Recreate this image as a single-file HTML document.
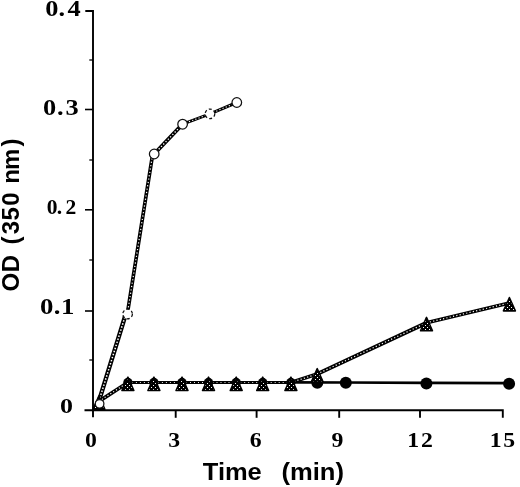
<!DOCTYPE html>
<html><head><meta charset="utf-8"><title>OD (350 nm) vs Time (min)</title>
<style>
html,body{margin:0;padding:0;background:#fff;}
svg{display:block;}
.tk{font-family:"Liberation Serif","DejaVu Serif",serif;font-weight:bold;font-size:22px;fill:#000;}
.ax{font-family:"Liberation Sans","DejaVu Sans",sans-serif;font-weight:bold;fill:#000;}
</style></head><body>
<svg width="520" height="487" viewBox="0 0 520 487">
<defs>
<pattern id="tp" patternUnits="userSpaceOnUse" width="4" height="4"><rect width="4" height="4" fill="#000"/><rect x="1" y="1" width="1" height="1" fill="#fff"/><rect x="3" y="3" width="1" height="1" fill="#fff"/></pattern>
</defs>
<rect width="520" height="487" fill="#fff"/>

<g stroke="#000" stroke-width="1.9" fill="none">
<path d="M85.3,11 H93.0 V417.3"/>
<path d="M84.5,410.3 H502.8 V417.8"/>
<path d="M85.0,109.5 H93.0" stroke-width="1.6"/>
<path d="M85.0,209.8 H93.0" stroke-width="1.6"/>
<path d="M85.0,311 H93.0" stroke-width="1.6"/>
<path d="M89.3,60 H93.0" stroke-width="1.3"/>
<path d="M89.3,160 H93.0" stroke-width="1.3"/>
<path d="M89.3,260 H93.0" stroke-width="1.3"/>
<path d="M89.3,360 H93.0" stroke-width="1.3"/>
<path d="M175.7,410.3 V417.8"/>
<path d="M256.6,410.3 V417.8"/>
<path d="M339.2,410.3 V417.8"/>
<path d="M420,410.3 V417.8"/>
</g>
<text class="tk" transform="translate(45.3,15.6) scale(1.2,1.04)" x="0.00 11.08 18.58" y="0">0.4</text>
<text class="tk" transform="translate(43,115.2) scale(1.2,1.08)" x="0.00 11.67 18.75" y="0">0.3</text>
<text class="tk" transform="translate(46.8,214) scale(0.98,0.92)" x="0.00 10.20 19.08" y="0">0.2</text>
<text class="tk" transform="translate(40,314) scale(1.22,1.08)" x="0.00 11.31 17.21" y="0">0.1</text>
<text class="tk" transform="translate(60,412.6) scale(1.18,1.0)" x="0.00" y="0">0</text>
<text class="tk" transform="translate(85,446.5) scale(1.08,1.0)" x="0.00" y="0">0</text>
<text class="tk" transform="translate(168.3,446.5) scale(1.08,1.0)" x="0.00" y="0">3</text>
<text class="tk" transform="translate(249.7,446.5) scale(1.08,1.0)" x="0.00" y="0">6</text>
<text class="tk" transform="translate(331.5,446.5) scale(1.08,1.0)" x="0.00" y="0">9</text>
<text class="tk" transform="translate(407.3,446.5) scale(1.08,1.0)" x="0.00 12.69" y="0">12</text>
<text class="tk" transform="translate(489.8,446.5) scale(1.08,1.0)" x="0.00 12.41" y="0">15</text>
<text class="ax" font-size="24" y="479.7"><tspan x="202.8" textLength="59" lengthAdjust="spacingAndGlyphs">Time</tspan> <tspan x="281.5" textLength="62.5" lengthAdjust="spacingAndGlyphs">(min)</tspan></text>
<text class="ax" font-size="24" transform="translate(18.7,290.3) rotate(-90)" x="-1.3 18.1 40 45.9 56.1 69.7 84.5 100 106.5 120.4 143.7" y="0">OD (350 nm)</text>
<polyline points="290.9,382.4 345.8,382.5 426.4,382.9 509.1,383.2" fill="none" stroke="#000" stroke-width="2.7"/>
<polyline points="98.9,401.3 127.9,382.5" fill="none" stroke="#000" stroke-width="3.8" stroke-linecap="round"/><polyline points="98.9,401.3 127.9,382.5" fill="none" stroke="#fff" stroke-width="1.2" stroke-dasharray="1.2 2.2"/>
<polyline points="127.9,382.5 153.9,382.5" fill="none" stroke="#000" stroke-width="2.8" stroke-linecap="round"/><polyline points="127.9,382.5 153.9,382.5" fill="none" stroke="#fff" stroke-width="0.9" stroke-dasharray="1 3"/>
<polyline points="153.9,382.5 182.0,382.5" fill="none" stroke="#000" stroke-width="2.8" stroke-linecap="round"/><polyline points="153.9,382.5 182.0,382.5" fill="none" stroke="#fff" stroke-width="0.9" stroke-dasharray="1 3"/>
<polyline points="182.0,382.5 208.5,382.5" fill="none" stroke="#000" stroke-width="2.8" stroke-linecap="round"/><polyline points="182.0,382.5 208.5,382.5" fill="none" stroke="#fff" stroke-width="0.9" stroke-dasharray="1 3"/>
<polyline points="208.5,382.5 236.2,382.5" fill="none" stroke="#000" stroke-width="2.8" stroke-linecap="round"/><polyline points="208.5,382.5 236.2,382.5" fill="none" stroke="#fff" stroke-width="0.9" stroke-dasharray="1 3"/>
<polyline points="236.2,382.5 262.7,382.5" fill="none" stroke="#000" stroke-width="2.8" stroke-linecap="round"/><polyline points="236.2,382.5 262.7,382.5" fill="none" stroke="#fff" stroke-width="0.9" stroke-dasharray="1 3"/>
<polyline points="262.7,382.5 290.9,382.5" fill="none" stroke="#000" stroke-width="2.8" stroke-linecap="round"/><polyline points="262.7,382.5 290.9,382.5" fill="none" stroke="#fff" stroke-width="0.9" stroke-dasharray="1 3"/>
<polyline points="290.9,382.5 317.2,374" fill="none" stroke="#000" stroke-width="3.6" stroke-linecap="round"/><polyline points="290.9,382.5 317.2,374" fill="none" stroke="#fff" stroke-width="1.2" stroke-dasharray="1.2 2.2"/>
<polyline points="317.2,374 426.5,322.8" fill="none" stroke="#000" stroke-width="4.1" stroke-linecap="round"/><polyline points="317.2,374 426.5,322.8" fill="none" stroke="#fff" stroke-width="1.2" stroke-dasharray="1.2 2.2"/>
<polyline points="426.5,322.8 509.4,302.9" fill="none" stroke="#000" stroke-width="3.6" stroke-linecap="round"/><polyline points="426.5,322.8 509.4,302.9" fill="none" stroke="#fff" stroke-width="1.2" stroke-dasharray="1.2 2.2"/>
<polyline points="98.0,404.2 125.8,314" fill="none" stroke="#000" stroke-width="4.4" stroke-linecap="round"/><polyline points="98.0,404.2 125.8,314" fill="none" stroke="#fff" stroke-width="1.5" stroke-dasharray="1.5 1.7"/>
<polyline points="127.3,314 152.7,154" fill="none" stroke="#000" stroke-width="3.7" stroke-linecap="round"/><polyline points="127.3,314 152.7,154" fill="none" stroke="#fff" stroke-width="1.2" stroke-dasharray="1.2 2.2"/>
<polyline points="154.2,154 182.6,124.2" fill="none" stroke="#000" stroke-width="3.9" stroke-linecap="round"/><polyline points="154.2,154 182.6,124.2" fill="none" stroke="#fff" stroke-width="1.3" stroke-dasharray="1.3 2"/>
<polyline points="182.6,124.2 210.0,113.8" fill="none" stroke="#000" stroke-width="3.0" stroke-linecap="round"/><polyline points="182.6,124.2 210.0,113.8" fill="none" stroke="#fff" stroke-width="1.1" stroke-dasharray="1.2 2.2"/>
<polyline points="210.0,113.8 236.8,102.5" fill="none" stroke="#000" stroke-width="3.0" stroke-linecap="round"/><polyline points="210.0,113.8 236.8,102.5" fill="none" stroke="#fff" stroke-width="1.1" stroke-dasharray="1.2 2.2"/>
<circle cx="317.3" cy="382.7" r="6" fill="#000"/>
<circle cx="345.8" cy="382.8" r="6" fill="#000"/>
<circle cx="426.4" cy="383.6" r="6" fill="#000"/>
<circle cx="509.1" cy="383.8" r="6" fill="#000"/>
<circle cx="127.9" cy="382.5" r="4.7" fill="#000"/>
<circle cx="153.9" cy="382.5" r="4.7" fill="#000"/>
<circle cx="182.0" cy="382.5" r="4.7" fill="#000"/>
<circle cx="208.5" cy="382.5" r="4.7" fill="#000"/>
<circle cx="236.2" cy="382.5" r="4.7" fill="#000"/>
<circle cx="262.7" cy="382.5" r="4.7" fill="#000"/>
<circle cx="290.9" cy="382.5" r="4.7" fill="#000"/>
<polygon points="98.9,395.90000000000003 92.9,409.3 104.9,409.3" fill="url(#tp)" stroke="#000" stroke-width="1.5" stroke-linejoin="round"/>
<polygon points="127.9,377.1 121.9,390.5 133.9,390.5" fill="url(#tp)" stroke="#000" stroke-width="1.5" stroke-linejoin="round"/>
<polygon points="153.9,377.1 147.9,390.5 159.9,390.5" fill="url(#tp)" stroke="#000" stroke-width="1.5" stroke-linejoin="round"/>
<polygon points="182.0,377.1 176.0,390.5 188.0,390.5" fill="url(#tp)" stroke="#000" stroke-width="1.5" stroke-linejoin="round"/>
<polygon points="208.5,377.1 202.5,390.5 214.5,390.5" fill="url(#tp)" stroke="#000" stroke-width="1.5" stroke-linejoin="round"/>
<polygon points="236.2,377.1 230.2,390.5 242.2,390.5" fill="url(#tp)" stroke="#000" stroke-width="1.5" stroke-linejoin="round"/>
<polygon points="262.7,377.1 256.7,390.5 268.7,390.5" fill="url(#tp)" stroke="#000" stroke-width="1.5" stroke-linejoin="round"/>
<polygon points="290.9,377.1 284.9,390.5 296.9,390.5" fill="url(#tp)" stroke="#000" stroke-width="1.5" stroke-linejoin="round"/>
<polygon points="317.2,368.6 311.2,382.0 323.2,382.0" fill="url(#tp)" stroke="#000" stroke-width="1.5" stroke-linejoin="round"/>
<polygon points="426.5,317.40000000000003 420.5,330.8 432.5,330.8" fill="url(#tp)" stroke="#000" stroke-width="1.5" stroke-linejoin="round"/>
<polygon points="509.4,297.5 503.4,310.9 515.4,310.9" fill="url(#tp)" stroke="#000" stroke-width="1.5" stroke-linejoin="round"/>
<circle cx="99.6" cy="403.8" r="4.3" fill="#fff" stroke="#111" stroke-width="1.25"/>
<circle cx="127.6" cy="314" r="4.8" fill="#fff" stroke="#111" stroke-width="1.25" stroke-dasharray="3 2.2"/>
<circle cx="154.2" cy="154" r="4.8" fill="#fff" stroke="#111" stroke-width="1.25"/>
<circle cx="182.6" cy="124.2" r="4.8" fill="#fff" stroke="#111" stroke-width="1.25"/>
<circle cx="210.0" cy="113.8" r="4.8" fill="#fff" stroke="#111" stroke-width="1.25" stroke-dasharray="3 2.2"/>
<circle cx="236.8" cy="102.5" r="4.8" fill="#fff" stroke="#111" stroke-width="1.25"/>
</svg></body></html>
